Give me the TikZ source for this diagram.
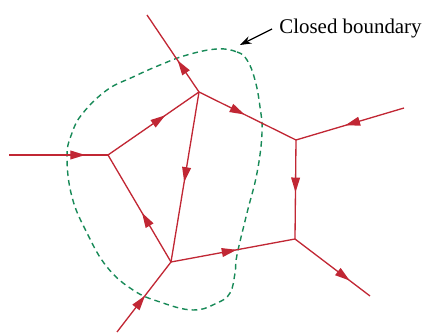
\documentclass[tikz,border=0pt]{standalone}
\usepackage{fontspec}
\setmainfont{Liberation Serif}
\usepackage{xcolor}
\usepackage{tikz}
\usetikzlibrary{
    positioning,
    arrows.meta,
    decorations.markings
}

\definecolor{wirered}{RGB}{193,39,52}
\definecolor{bndgreen}{RGB}{24,138,88}

\begin{document}
\begin{tikzpicture}[
    x=0.02cm,
    y=-0.02cm,
    branch/.style={
        color=wirered,
        line width=0.75pt
    },
    flow/.style={
        branch,
        postaction={decorate},
        decoration={
            markings,
            mark=at position #1 with {\arrow{Triangle[length=8.5pt,width=5pt]}}
        }
    },
    boundary/.style={
        draw=bndgreen,
        line width=0.8pt,
        dash pattern=on 3.2pt off 2.3pt
    },
    caption/.style={
        inner sep=4pt,
        font=\fontsize{11.9}{14}\selectfont
    },
    pointer/.style={
        -{Stealth[length=6.5pt,width=4.5pt]},
        line width=0.65pt
    }
]

\useasboundingbox (0,0) rectangle (423,333);

% ============================================================
% JUNCTIONS
% ============================================================

\coordinate (jtop)   at (199,92);
\coordinate (jleft)  at (108,155);
\coordinate (jbot)   at (171,262);
\coordinate (jright) at (296,140);
\coordinate (jlow)   at (295,239);

% ============================================================
% FREE ENDS
% ============================================================

\coordinate (etop)   at (147,15);
\coordinate (eleft)  at (9,155);
\coordinate (ebot)   at (117,332);
\coordinate (eright) at (404,108);
\coordinate (elow)   at (370,296);

% ============================================================
% CLOSED BOUNDARY
% ============================================================

\draw[boundary] plot[smooth cycle, tension=0.7] coordinates {
    (217,49) (237,52) (247,60) (255,80) (260,107) (262,133)
    (257,173) (247,213) (237,255) (235,273) (230,293) (217,303)
    (193,310) (160,302) (133,290) (107,267) (87,233) (72,197)
    (67,157) (72,133) (83,113) (107,90) (133,77) (160,65) (187,55)
};

\coordinate (bnd) at (240,45);

% ============================================================
% LABEL
% ============================================================

\node[caption, anchor=west] (label) at (272,29) {Closed boundary};

% ============================================================
% CONNECTIONS
% ============================================================

\draw[flow=0.41]  (jtop) -- (etop);
\draw[flow=0.47]  (jtop) -- (jright);
\draw[flow=0.545] (eright) -- (jright);
\draw[flow=0.53]  (jright) -- (jlow);
\draw[flow=0.73]  (jlow) -- (elow);
\draw[flow=0.53]  (jbot) -- (jlow);
\draw[flow=0.52]  (ebot) -- (jbot);
\draw[flow=0.46]  (jbot) -- (jleft);
\draw[flow=0.63]  (jleft) -- (jtop);
\draw[flow=0.53]  (jtop) -- (jbot);
\draw[flow=0.77]  (eleft) -- (jleft);

\draw[pointer] (label.west) -- (bnd);

\end{tikzpicture}
\end{document}
